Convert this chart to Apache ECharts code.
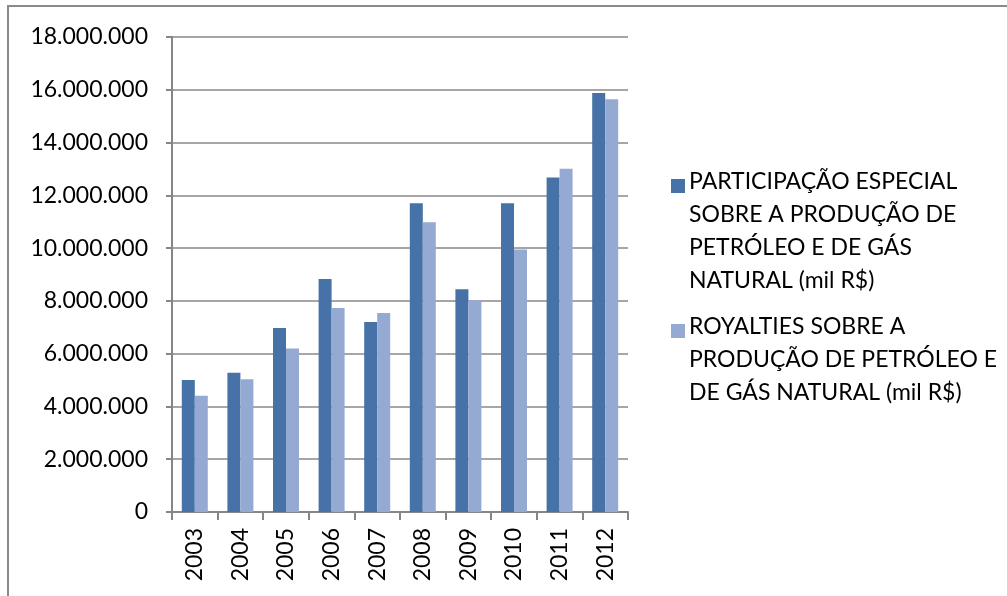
<!DOCTYPE html>
<html>
<head>
<meta charset="utf-8">
<script src="https://cdn.jsdelivr.net/npm/echarts@6/dist/echarts.min.js"></script>
<style>
html,body{margin:0;padding:0;background:#fff;}
#chart{width:1007px;height:596px;}
</style>
</head>
<body>
<div id="chart"></div>
<script>
const categories = ['2003','2004','2005','2006','2007','2008','2009','2010','2011','2012'];
const participacaoEspecial = [5000000, 5280000, 6970000, 8830000, 7200000, 11700000, 8440000, 11700000, 12680000, 15880000];
const royalties = [4410000, 5030000, 6200000, 7730000, 7540000, 10980000, 8020000, 9950000, 13010000, 15640000];
const seriesNames = [
  'PARTICIPAÇÃO ESPECIAL\nSOBRE A PRODUÇÃO DE\nPETRÓLEO E DE GÁS\nNATURAL (mil R$)',
  'ROYALTIES SOBRE A\nPRODUÇÃO DE PETRÓLEO E\nDE GÁS NATURAL (mil R$)'
];
const colors = ['#4672a8', '#95aad2'];

const FONT = 'Lato';
const FS = 23;
const fmt = v => String(v).replace(/\B(?=(\d{3})+(?!\d))/g, '.');

const chart = echarts.init(document.getElementById('chart'), null, {renderer:'canvas'});
chart.setOption({
  animation: false,
  backgroundColor: '#fff',
  textStyle: {fontFamily: FONT},
  grid: {left: 172, top: 37, width: 456, height: 475, containLabel: false},
  legend: {show: false},
  xAxis: {
    type: 'category',
    data: categories,
    boundaryGap: true,
    axisLine: {show: true, lineStyle: {color: '#868686', width: 2}},
    axisTick: {show: true, alignWithLabel: false, length: 8, lineStyle: {color: '#868686', width: 2}},
    axisLabel: {rotate: 90, margin: 16, color: '#000', fontSize: FS, fontFamily: FONT}
  },
  yAxis: {
    type: 'value',
    min: 0, max: 18000000, interval: 2000000,
    axisLine: {show: true, lineStyle: {color: '#868686', width: 2}},
    axisTick: {show: true, length: 6, lineStyle: {color: '#868686', width: 2}},
    splitLine: {show: true, lineStyle: {color: '#a6a6a6', width: 2}},
    axisLabel: {margin: 24, color: '#000', fontSize: FS, fontFamily: FONT, formatter: v => fmt(v)}
  },
  series: [
    {name: seriesNames[0], type: 'bar', data: participacaoEspecial, barWidth: 13, barGap: '0%', itemStyle: {color: colors[0]}},
    {name: seriesNames[1], type: 'bar', data: royalties, barWidth: 13, barGap: '0%', itemStyle: {color: colors[1]}}
  ],
  graphic: [
    {type: 'rect', shape: {x: 8, y: 6, width: 1100, height: 700}, style: {fill: 'none', stroke: '#8a8a8a', lineWidth: 2}, silent: true, z: 0},
    {type: 'rect', shape: {x: 671, y: 179, width: 14, height: 14}, style: {fill: colors[0]}},
    {type: 'text', x: 689, y: 165.7, style: {text: seriesNames[0], font: FS + 'px ' + FONT, fill: '#000', lineHeight: 32.7, verticalAlign: 'top', align: 'left'}},
    {type: 'rect', shape: {x: 671, y: 324, width: 14, height: 14}, style: {fill: colors[1]}},
    {type: 'text', x: 689, y: 310.4, style: {text: seriesNames[1], font: FS + 'px ' + FONT, fill: '#000', lineHeight: 32.7, verticalAlign: 'top', align: 'left'}}
  ]
});
</script>
</body>
</html>
